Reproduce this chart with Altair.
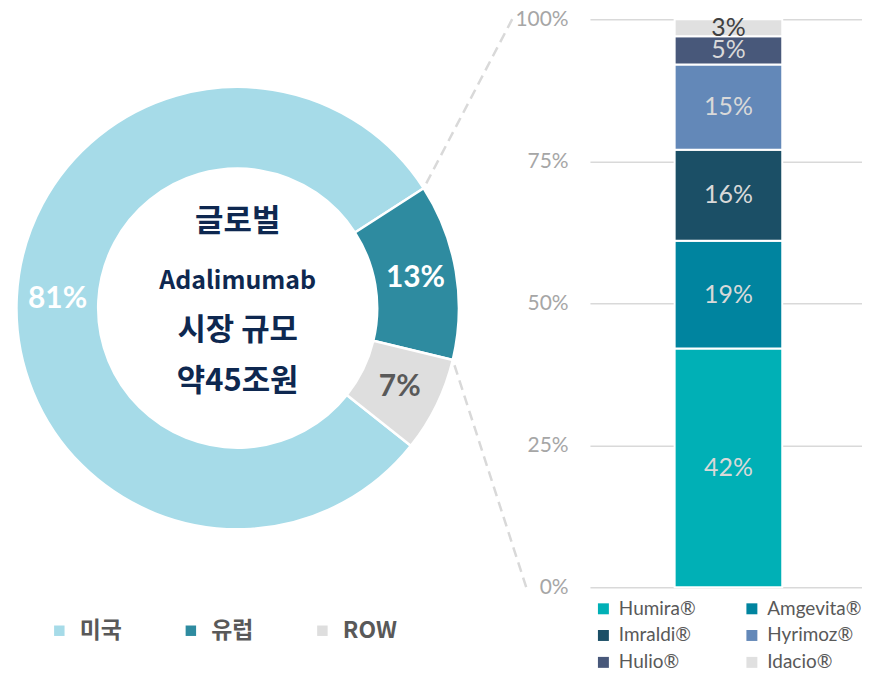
import math
import altair as alt
import pandas as pd

# ---------------- data ----------------
regions = ["미국", "유럽", "ROW"]
region_share = [81, 13, 7]
region_label = ["81%", "13%", "7%"]

brands = ["Humira®", "Amgevita®", "Imraldi®", "Hyrimoz®", "Hulio®", "Idacio®"]
brand_share = [42, 19, 16, 15, 5, 3]
brand_label = ["42%", "19%", "16%", "15%", "5%", "3%"]

y_ticks = [0, 25, 50, 75, 100]
center_lines = ["글로벌", "Adalimumab", "시장 규모", "약45조원"]

region_colors = ["#a6dbe8", "#2e8ba0", "#dedede"]
brand_colors = ["#00b0b6", "#00849f", "#1b4f66", "#6388b8", "#48587a", "#e0e0e0"]

# ---------------- layout ----------------
W, H = 273, 570            # bar plot area
CX, CY = 238.5 - 592, 308 - 18   # donut centre relative to the bar plot origin
R_OUT, R_IN = 222, 140
START_DEG = 128.5
FONT_LAT = "Lato"
FONT_KR = "Noto Sans CJK KR"
CENTER_DY = [-86, -27, 23, 74]
CENTER_SIZE = [31, 25, 31, 31]

# donut table
tot = sum(region_share)
t0, acc = [], 0
for v in region_share:
    t0.append(acc)
    acc += v
df_r = pd.DataFrame({
    "region": regions,
    "share": region_share,
    "label": region_label,
    "t0": t0,
    "t1": [a + v for a, v in zip(t0, region_share)],
})
df_r["tm"] = (df_r["t0"] + df_r["t1"]) / 2

start = math.radians(START_DEG)
theta_scale = alt.Scale(domain=[0, tot], range=[start, start + 2 * math.pi])

# bar table
b0, acc = [], 0
for v in brand_share:
    b0.append(acc)
    acc += v
df_b = pd.DataFrame({
    "grp": ["bar"] * len(brands),
    "brand": brands,
    "share": brand_share,
    "label": brand_label,
    "b0": b0,
    "b1": [a + v for a, v in zip(b0, brand_share)],
})
df_b["bm"] = (df_b["b0"] + df_b["b1"]) / 2


def donut_point(frac):
    a = start + frac * 2 * math.pi
    return CX + R_OUT * math.sin(a), CY - R_OUT * math.cos(a)


# ---------------- layers ----------------
donut = alt.Chart(df_r).mark_arc(
    outerRadius=R_OUT, innerRadius=R_IN, stroke="white", strokeWidth=2.5
).encode(
    x=alt.value(CX), y=alt.value(CY),
    theta=alt.Theta("t0:Q", scale=theta_scale, stack=False),
    theta2="t1:Q",
    color=alt.Color(
        "region:N",
        scale=alt.Scale(domain=regions, range=region_colors),
        legend=alt.Legend(
            orient="none", legendX=-544, legendY=602, direction="horizontal",
            columns=3, title=None, symbolType="square", symbolSize=110,
            symbolStrokeWidth=0, labelFont=FONT_KR, labelFontSize=23,
            labelFontWeight="bold", labelColor="#595959", columnPadding=45,
            gridAlign="all", labelOffset=9,
        ),
    ),
)

donut_text = alt.Chart(df_r).mark_text(
    font=FONT_LAT, fontWeight="bold", fontSize=30, baseline="middle", align="center"
).encode(
    x=alt.value(CX), y=alt.value(CY),
    theta=alt.Theta("tm:Q", scale=theta_scale, stack=False),
    radius=alt.value((R_OUT + R_IN) / 2),
    text="label:N",
    color=alt.condition(alt.datum.region == "ROW", alt.value("#595959"), alt.value("#ffffff")),
)

center_layers = []
for line, dy, fs in zip(center_lines, CENTER_DY, CENTER_SIZE):
    center_layers.append(
        alt.Chart(pd.DataFrame({"txt": [line]})).mark_text(
            font=FONT_KR, fontWeight="bold", fontSize=fs, color="#0e2850",
            align="center", baseline="middle", dy=dy,
        ).encode(x=alt.value(CX), y=alt.value(CY), text="txt:N")
    )

# connectors
ux, uy = donut_point(region_share[0] / tot)
lx, ly = donut_point((region_share[0] + region_share[1]) / tot)
conn_up = alt.Chart(pd.DataFrame({"level": [100]})).mark_rule(
    color="#d9d9d9", strokeWidth=2.5, strokeDash=[10, 6]
).encode(y="level:Q", x=alt.value(-78), x2=alt.value(ux), y2=alt.value(uy))
conn_low = alt.Chart(pd.DataFrame({"level": [0]})).mark_rule(
    color="#d9d9d9", strokeWidth=2.5, strokeDash=[10, 6]
).encode(y="level:Q", x=alt.value(-64), x2=alt.value(lx), y2=alt.value(ly))

bar = alt.Chart(df_b).mark_bar(stroke="white", strokeWidth=2).encode(
    x=alt.X("grp:N", axis=None,
            scale=alt.Scale(paddingInner=0, paddingOuter=0.764, align=0.515)),
    y=alt.Y(
        "b0:Q",
        scale=alt.Scale(domain=[0, 100]),
        axis=alt.Axis(
            values=y_ticks, labelExpr="datum.value + '%'", title=None,
            domain=False, ticks=False, tickSize=0, grid=True,
            gridColor="#d9d9d9", gridWidth=1.5, labelFont=FONT_LAT,
            labelFontSize=21, labelColor="#a6a6a6", labelPadding=22,
        ),
    ),
    y2="b1:Q",
    color=alt.Color(
        "brand:N",
        scale=alt.Scale(domain=brands, range=brand_colors),
        legend=alt.Legend(
            orient="none", legendX=4, legendY=582, direction="horizontal",
            columns=2, title=None, symbolType="square", symbolSize=121,
            symbolStrokeWidth=0, labelFont=FONT_LAT, labelFontSize=19,
            labelColor="#595959", columnPadding=29, rowPadding=7,
            gridAlign="all", labelOffset=6,
        ),
    ),
)

bar_text = alt.Chart(df_b).mark_text(
    font=FONT_LAT, fontSize=25, baseline="middle", align="center"
).encode(
    x=alt.X("grp:N", axis=None),
    y=alt.Y("bm:Q"),
    text="label:N",
    color=alt.condition(alt.datum.brand == "Idacio®", alt.value("#404040"), alt.value("#d9d9d9")),
)

chart = alt.layer(
    conn_up, conn_low, donut, donut_text, *center_layers, bar, bar_text
).resolve_scale(color="independent").properties(
    width=W, height=H,
    autosize=alt.AutoSizeParams(type="none"),
    padding={"left": 584, "top": 10, "right": 0, "bottom": 86},
).configure_view(stroke=None)

chart.save("out.html", embed_options={"renderer": "svg", "actions": False})
